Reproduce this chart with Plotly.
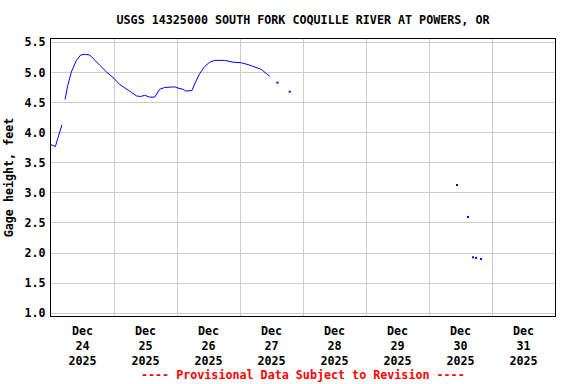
import plotly.graph_objects as go

# Main continuous record (None breaks the line)
line_times = [
    "2025-12-24 00:00", "2025-12-24 00:50", "2025-12-24 01:40", "2025-12-24 02:33",
    "2025-12-24 03:30", "2025-12-24 04:11", None,
    "2025-12-24 05:20", "2025-12-24 06:22", "2025-12-24 07:46", "2025-12-24 09:40",
    "2025-12-24 11:19", "2025-12-24 13:06", "2025-12-24 14:45", "2025-12-24 16:39",
    "2025-12-24 18:33", "2025-12-24 21:06", "2025-12-25 00:00", "2025-12-25 02:10",
    "2025-12-25 04:44", "2025-12-25 06:37", "2025-12-25 08:32", "2025-12-25 10:11",
    "2025-12-25 11:41", "2025-12-25 12:50", "2025-12-25 13:36", "2025-12-25 15:30",
    "2025-12-25 17:24", "2025-12-25 19:19", "2025-12-25 23:07", "2025-12-26 00:23",
    "2025-12-26 02:17", "2025-12-26 03:19", "2025-12-26 05:43", "2025-12-26 06:45",
    "2025-12-26 08:38", "2025-12-26 10:34", "2025-12-26 12:28", "2025-12-26 14:21",
    "2025-12-26 18:10", "2025-12-26 21:20", "2025-12-27 00:32", "2025-12-27 03:03",
    "2025-12-27 05:36", "2025-12-27 08:10", "2025-12-27 10:03", "2025-12-27 11:18",
]
line_values = [
    3.80, 3.78, 3.77, 3.90, 4.03, 4.13, None,
    4.55, 4.78, 5.01, 5.20, 5.29, 5.30, 5.29, 5.20, 5.12, 5.01, 4.90, 4.80,
    4.73, 4.67, 4.61, 4.60, 4.62, 4.60, 4.59, 4.59, 4.72, 4.75, 4.76, 4.74,
    4.72, 4.69, 4.70, 4.81, 4.98, 5.10, 5.17, 5.20, 5.20, 5.17, 5.16, 5.13,
    5.09, 5.05, 4.98, 4.94,
]

# Isolated readings
dot_times = [
    "2025-12-27 14:15", "2025-12-27 18:56", "2025-12-30 10:40",
    "2025-12-30 14:51", "2025-12-30 16:45", "2025-12-30 17:54", "2025-12-30 19:48",
]
dot_values = [4.83, 4.68, 3.13, 2.60, 1.93, 1.92, 1.90]

# Axis ticks
x_tick_vals = [
    "2025-12-24 12:00", "2025-12-25 12:00", "2025-12-26 12:00", "2025-12-27 12:00",
    "2025-12-28 12:00", "2025-12-29 12:00", "2025-12-30 12:00", "2025-12-31 12:00",
]
x_tick_text = [
    "Dec<br>24<br>2025", "Dec<br>25<br>2025", "Dec<br>26<br>2025", "Dec<br>27<br>2025",
    "Dec<br>28<br>2025", "Dec<br>29<br>2025", "Dec<br>30<br>2025", "Dec<br>31<br>2025",
]
y_tick_vals = [1.0, 1.5, 2.0, 2.5, 3.0, 3.5, 4.0, 4.5, 5.0, 5.5]
x_range = ["2025-12-24 00:00", "2026-01-01 00:00"]
y_range = [0.955, 5.555]

title_text = "USGS 14325000 SOUTH FORK COQUILLE RIVER AT POWERS, OR"
y_title = "Gage height, feet"
footer_text = "---- Provisional Data Subject to Revision ----"

FONT = "DejaVu Sans Mono"
fnt = dict(family=FONT, size=11.7, color="black", weight="bold")

fig = go.Figure()
fig.add_trace(go.Scatter(
    x=line_times, y=line_values, mode="lines",
    line=dict(color="#0000ff", width=1), connectgaps=False, showlegend=False,
))
fig.add_trace(go.Scatter(
    x=dot_times, y=dot_values, mode="markers",
    marker=dict(color="#0000ff", size=2, symbol="square", line=dict(width=0)),
    showlegend=False,
))

fig.update_layout(
    width=576, height=384,
    margin=dict(l=51, r=21, t=39, b=68, autoexpand=False),
    paper_bgcolor="white", plot_bgcolor="white",
    font=fnt,
    title=dict(text=title_text, x=0.5, xref="paper", xanchor="center",
               y=1 - 20 / 384, yref="container", yanchor="middle", font=fnt,
               automargin=False),
    xaxis=dict(
        type="date", range=x_range, automargin=False,
        tickmode="array", tickvals=x_tick_vals, ticktext=x_tick_text,
        ticks="", showgrid=False, ticklabelstandoff=4,
        minor=dict(tick0="2025-12-24", dtick=86400000, showgrid=True,
                   gridcolor="#cccccc", gridwidth=1, ticks=""),
        showline=True, linecolor="black", linewidth=1, mirror=True,
        tickfont=fnt, zeroline=False,
    ),
    yaxis=dict(
        range=y_range, tickmode="array", tickvals=y_tick_vals, automargin=False,
        tickformat=".1f", ticks="", showgrid=True, gridcolor="#cccccc", gridwidth=1,
        showline=True, linecolor="black", linewidth=1, mirror=True,
        tickfont=fnt, zeroline=False, ticklabelstandoff=2,
        title=dict(text=y_title, font=fnt, standoff=8),
    ),
    annotations=[dict(
        text=footer_text, xref="paper", yref="paper", x=0.5,
        y=-(375 - 316) / 277, xanchor="center", yanchor="middle", showarrow=False,
        font=dict(family=FONT, size=11.7, color="red", weight="bold"),
    )],
)

fig.write_html(
    "out.html",
    config={"displayModeBar": False},
    post_script="document.body.style.margin='0px';document.body.style.overflow='hidden';",
)
